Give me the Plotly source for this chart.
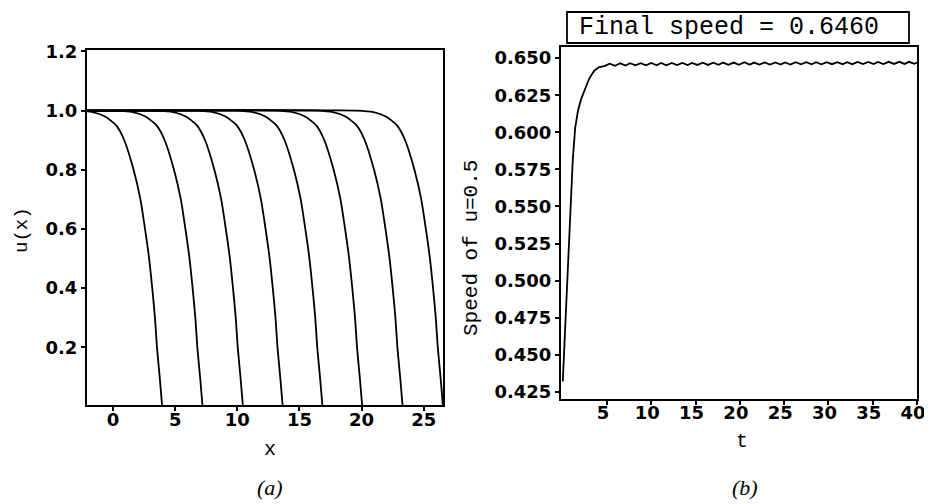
import plotly.graph_objects as go

# ---------------- data: panel (a) ----------------
u_levels = [1.0, 0.995, 0.98, 0.95, 0.9, 0.8, 0.7, 0.6, 0.5, 0.4, 0.3, 0.2, 0.1, 0.0]
x_curve1 = [-3.05, -1.65, -0.65, 0.25, 0.9, 1.65, 2.2, 2.57, 2.9, 3.15, 3.37, 3.53, 3.75, 3.95]
x_curve2 = [0.2, 1.6, 2.6, 3.5, 4.15, 4.9, 5.45, 5.82, 6.15, 6.4, 6.62, 6.78, 7.0, 7.2]
x_curve3 = [3.45, 4.85, 5.85, 6.75, 7.4, 8.15, 8.7, 9.07, 9.4, 9.65, 9.87, 10.03, 10.25, 10.45]
x_curve4 = [6.65, 8.05, 9.05, 9.95, 10.6, 11.35, 11.9, 12.27, 12.6, 12.85, 13.07, 13.23, 13.45, 13.65]
x_curve5 = [9.85, 11.25, 12.25, 13.15, 13.8, 14.55, 15.1, 15.47, 15.8, 16.05, 16.27, 16.43, 16.65, 16.85]
x_curve6 = [13.05, 14.45, 15.45, 16.35, 17.0, 17.75, 18.3, 18.67, 19.0, 19.25, 19.47, 19.63, 19.85, 20.05]
x_curve7 = [16.3, 17.7, 18.7, 19.6, 20.25, 21.0, 21.55, 21.92, 22.25, 22.5, 22.72, 22.88, 23.1, 23.3]
x_curve8 = [19.55, 20.95, 21.95, 22.85, 23.5, 24.25, 24.8, 25.17, 25.5, 25.75, 25.97, 26.13, 26.35, 26.55]
plateau_start_x = -2.1
a_xticks = [0, 5, 10, 15, 20, 25]
a_yticks = [0.2, 0.4, 0.6, 0.8, 1.0, 1.2]

# ---------------- data: panel (b) ----------------
t_vals = [0.0, 0.3, 0.6, 0.9, 1.13, 1.4, 1.7, 2.05, 2.45, 3.0, 3.55, 4.1,
          4.7, 5.3, 5.9, 6.5, 7.1, 7.6, 8.2, 8.8, 9.4, 10.0, 10.6, 11.1, 11.7, 12.3,
          12.9, 13.5, 14.1, 14.6, 15.2, 15.8, 16.4, 17.0, 17.6, 18.1, 18.7, 19.3,
          19.9, 20.5, 21.1, 21.6, 22.2, 22.8, 23.4, 24.0, 24.6, 25.1, 25.7, 26.3,
          26.9, 27.5, 28.1, 28.6, 29.2, 29.8, 30.4, 31.0, 31.6, 32.1, 32.7, 33.3,
          33.9, 34.5, 35.1, 35.6, 36.2, 36.8, 37.4, 38.0, 38.6, 39.1, 39.7, 40.0]
speed_vals = [0.432, 0.469, 0.506, 0.543, 0.5816, 0.603, 0.614, 0.622, 0.6286, 0.6364, 0.6415, 0.6440,
              0.6446, 0.6462, 0.6448, 0.6465, 0.6450, 0.6466, 0.6451, 0.6466, 0.6451, 0.6467, 0.6452, 0.6467, 0.6452, 0.6468,
              0.6453, 0.6468, 0.6453, 0.6468, 0.6454, 0.6469, 0.6454, 0.6469, 0.6455, 0.6470, 0.6455, 0.6470,
              0.6455, 0.6472, 0.6456, 0.6470, 0.6456, 0.6471, 0.6457, 0.6471, 0.6457, 0.6471, 0.6457, 0.6472,
              0.6458, 0.6472, 0.6458, 0.6472, 0.6458, 0.6473, 0.6459, 0.6473, 0.6459, 0.6473, 0.6459, 0.6474,
              0.6460, 0.6474, 0.6460, 0.6474, 0.6460, 0.6475, 0.6461, 0.6475, 0.6461, 0.6475, 0.6462, 0.6470]
b_xticks = [5, 10, 15, 20, 25, 30, 35, 40]
b_yticks = [0.425, 0.450, 0.475, 0.500, 0.525, 0.550, 0.575, 0.600, 0.625, 0.650]
final_speed_text = "Final speed = 0.6460"

# The page body has an 8 px margin, so the figure is drawn 8 px in from the window corner.
OFF = 8
W, H = 932 - OFF, 504 - OFF
def px(x):
    return (x - OFF) / W
def py(y):
    return 1 - (y - OFF) / H

fig = go.Figure()

all_curves = [x_curve1, x_curve2, x_curve3, x_curve4, x_curve5, x_curve6, x_curve7, x_curve8]
for i, xc in enumerate(all_curves):
    if i == 0:
        xs, us = list(xc), list(u_levels)
    else:
        xs, us = [plateau_start_x] + list(xc), [1.0] + list(u_levels)
    fig.add_trace(go.Scatter(x=xs, y=us, mode="lines",
                             line=dict(color="black", width=1.8, shape="spline", smoothing=0.6),
                             xaxis="x", yaxis="y", showlegend=False, hoverinfo="skip"))

fig.add_trace(go.Scatter(x=t_vals, y=speed_vals, mode="lines", line=dict(color="black", width=1.8),
                         xaxis="x2", yaxis="y2", showlegend=False, hoverinfo="skip"))

tickfont = dict(family="DejaVu Sans", size=18, color="black", weight="bold")
axis_common = dict(showline=True, mirror=True, linecolor="black", linewidth=2,
                   ticks="outside", ticklen=4, tickwidth=1.5, tickcolor="black",
                   showgrid=False, zeroline=False, tickfont=tickfont, automargin=False,
                   ticklabeloverflow="allow")
xaxis_extra = dict(ticklabelstandoff=-7)

fig.update_layout(
    width=W, height=H,
    margin=dict(l=0, r=0, t=0, b=0, autoexpand=False),
    paper_bgcolor="white", plot_bgcolor="white",
    xaxis=dict(domain=[px(87), px(443)], range=[-2.1, 26.55], anchor="y",
               tickvals=a_xticks, ticktext=[str(v) for v in a_xticks], **axis_common, **xaxis_extra),
    yaxis=dict(domain=[py(405), py(50)], range=[0.005, 1.205], anchor="x",
               tickvals=a_yticks, ticktext=["%.1f" % v for v in a_yticks], **axis_common),
    xaxis2=dict(domain=[px(561), px(917)], range=[-0.2, 40], anchor="y2",
                tickvals=b_xticks, ticktext=[str(v) for v in b_xticks], ticklabelshift=-4,
                **axis_common, **xaxis_extra),
    yaxis2=dict(domain=[py(398.5), py(47)], range=[0.4205, 0.6575], anchor="x2",
                tickvals=b_yticks, ticktext=["%.3f" % v for v in b_yticks], **axis_common),
)

mono = "Courier New, Liberation Mono, monospace"
serif = "Liberation Serif, DejaVu Serif, serif"
ann = [
    dict(text="u(x)", x=px(22), y=py(230), textangle=-90, font=dict(family=mono, size=19, color="black")),
    dict(text="x", x=px(270), y=py(449), font=dict(family=mono, size=20, color="black")),
    dict(text="Speed of u=0.5", x=px(471), y=py(248), textangle=-90, font=dict(family=mono, size=21, color="black")),
    dict(text="t", x=px(742), y=py(441), font=dict(family=mono, size=20, color="black")),
    dict(text="<i>(a)</i>", x=px(270), y=py(487), font=dict(family=serif, size=22, color="black")),
    dict(text="<i>(b)</i>", x=px(745), y=py(487), font=dict(family=serif, size=22, color="black")),
    dict(text=final_speed_text, x=px(729), y=py(27), font=dict(family=mono, size=25, color="black")),
]
for a in ann:
    fig.add_annotation(xref="paper", yref="paper", showarrow=False, xanchor="center", yanchor="middle", **a)

fig.add_shape(type="rect", xref="paper", yref="paper",
              x0=px(567), x1=px(909), y0=py(43), y1=py(12),
              line=dict(color="black", width=1.8), fillcolor="rgba(0,0,0,0)")

fig.write_html("out.html")
